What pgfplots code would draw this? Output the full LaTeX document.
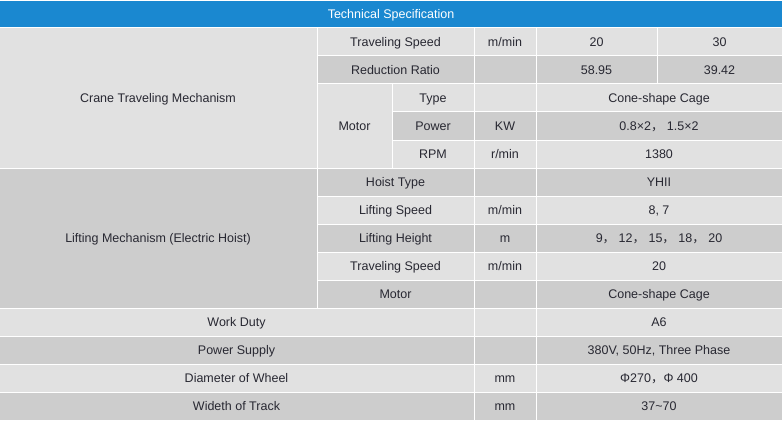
\documentclass[border=0pt]{standalone}
\usepackage{pgfplots}
\pgfplotsset{compat=1.18}
\usepackage{fontspec}
\setmainfont{Liberation Sans}
\newfontfamily\cjk{Noto Sans CJK SC}

\definecolor{hdr}{RGB}{26,136,208}
\definecolor{lt}{RGB}{225,225,225}
\definecolor{dk}{RGB}{205,205,205}
\definecolor{txt}{RGB}{40,40,50}

% cell: x0, y0, x1, y1 (pixels from top left), fill, text
\newcommand\cell[6]{%
  \fill[#5, draw=white, line width=1bp] (axis cs:#1,#2) rectangle (axis cs:#3,#4);
  \node[anchor=base, inner sep=0pt, text=txt, font=\fontsize{12.5bp}{15bp}\selectfont]
    at (axis cs:{(#1+#3)/2},{(#2+#4)/2+4.5}) {#6};}
\newcommand\fc{{\cjk ，}}

\begin{document}
\begin{tikzpicture}
\begin{axis}[
  scale only axis, width=782bp, height=421bp,
  xmin=0, xmax=782, ymin=0, ymax=421, y dir=reverse,
  hide axis, clip=true]
% header
\fill[hdr, draw=white, line width=1bp] (axis cs:-2,0.5) rectangle (axis cs:784,28);
\node[anchor=base, inner sep=0pt, text=white, font=\fontsize{12.5bp}{15bp}\selectfont]
  at (axis cs:391,18.5) {Technical Specification};
% left group column
\cell{-1}{28}{317}{168}{lt}{Crane Traveling Mechanism}
\cell{-1}{168}{317}{308}{dk}{Lifting Mechanism (Electric Hoist)}
% row 1
\cell{317}{28}{474}{56}{lt}{Traveling Speed}
\cell{474}{28}{536}{56}{lt}{m/min}
\cell{536}{28}{657}{56}{lt}{20}
\cell{657}{28}{782}{56}{lt}{30}
% row 2
\cell{317}{56}{474}{84}{dk}{Reduction Ratio}
\cell{474}{56}{536}{84}{dk}{}
\cell{536}{56}{657}{84}{dk}{58.95}
\cell{657}{56}{782}{84}{dk}{39.42}
% motor block
\cell{317}{84}{392}{168}{lt}{Motor}
\cell{392}{84}{474}{112}{lt}{Type}
\cell{474}{84}{536}{112}{lt}{}
\cell{536}{84}{782}{112}{lt}{Cone-shape Cage}
\cell{392}{112}{474}{140}{dk}{Power}
\cell{474}{112}{536}{140}{dk}{KW}
\cell{536}{112}{782}{140}{dk}{0.8×2\fc{} 1.5×2}
\cell{392}{140}{474}{168}{lt}{RPM}
\cell{474}{140}{536}{168}{lt}{r/min}
\cell{536}{140}{782}{168}{lt}{1380}
% lifting mechanism
\cell{317}{168}{474}{196}{dk}{Hoist Type}
\cell{474}{168}{536}{196}{dk}{}
\cell{536}{168}{782}{196}{dk}{YHII}
\cell{317}{196}{474}{224}{lt}{Lifting Speed}
\cell{474}{196}{536}{224}{lt}{m/min}
\cell{536}{196}{782}{224}{lt}{8, 7}
\cell{317}{224}{474}{252}{dk}{Lifting Height}
\cell{474}{224}{536}{252}{dk}{m}
\cell{536}{224}{782}{252}{dk}{9\fc{} 12\fc{} 15\fc{} 18\fc{} 20}
\cell{317}{252}{474}{280}{lt}{Traveling Speed}
\cell{474}{252}{536}{280}{lt}{m/min}
\cell{536}{252}{782}{280}{lt}{20}
\cell{317}{280}{474}{308}{dk}{Motor}
\cell{474}{280}{536}{308}{dk}{}
\cell{536}{280}{782}{308}{dk}{Cone-shape Cage}
% general rows
\cell{-1}{308}{474}{336}{lt}{Work Duty}
\cell{474}{308}{536}{336}{lt}{}
\cell{536}{308}{782}{336}{lt}{A6}
\cell{-1}{336}{474}{364}{dk}{Power Supply}
\cell{474}{336}{536}{364}{dk}{}
\cell{536}{336}{782}{364}{dk}{380V, 50Hz, Three Phase}
\cell{-1}{364}{474}{392}{lt}{Diameter of Wheel}
\cell{474}{364}{536}{392}{lt}{mm}
\cell{536}{364}{782}{392}{lt}{Φ270\fc{}Φ 400}
\cell{-1}{392}{474}{420}{dk}{Wideth of Track}
\cell{474}{392}{536}{420}{dk}{mm}
\cell{536}{392}{782}{420}{dk}{37\textasciitilde 70}
\end{axis}
\pgfresetboundingbox
\path[use as bounding box] (current axis.south west) rectangle (current axis.north east);
\end{tikzpicture}
\end{document}
